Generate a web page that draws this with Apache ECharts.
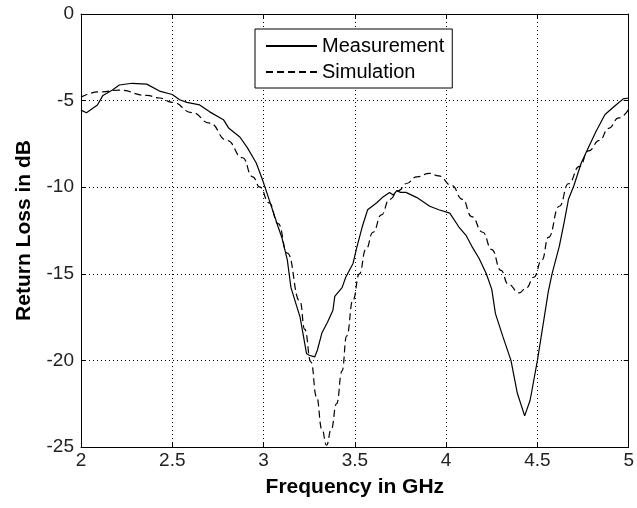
<!DOCTYPE html>
<html>
<head>
<meta charset="utf-8">
<script src="https://cdn.jsdelivr.net/npm/echarts@6/dist/echarts.min.js"></script>
<style>
html,body{margin:0;padding:0;background:#fff;}
#chart{width:637px;height:508px;}
</style>
</head>
<body>
<div id="chart"></div>
<script>
const xTicks = [2, 2.5, 3, 3.5, 4, 4.5, 5];
const yTicks = [-25, -20, -15, -10, -5, 0];

const measFreq = [2.00,2.03,2.09,2.12,2.17,2.21,2.28,2.36,2.43,2.50,2.54,2.58,2.65,2.705,2.78,2.81,2.87,2.91,2.96,2.995,3.03,3.08,3.10,3.13,3.15,3.20,3.235,3.25,3.28,3.295,3.32,3.35,3.38,3.39,3.43,3.45,3.49,3.51,3.54,3.57,3.62,3.65,3.69,3.70,3.71,3.73,3.75,3.78,3.84,3.91,3.96,4.02,4.07,4.11,4.14,4.18,4.22,4.25,4.27,4.31,4.355,4.39,4.43,4.46,4.50,4.56,4.58,4.62,4.645,4.67,4.70,4.74,4.78,4.82,4.87,4.93,4.97,5.00];
const measDb = [-5.55,-5.7,-5.25,-4.7,-4.4,-4.1,-4.0,-4.05,-4.45,-4.65,-4.95,-5.1,-5.25,-5.65,-6.1,-6.6,-7.1,-7.7,-8.6,-9.6,-10.7,-12.3,-12.9,-14.2,-15.8,-17.5,-19.6,-19.7,-19.8,-19.4,-18.4,-17.8,-17.1,-16.3,-15.8,-15.2,-14.4,-13.5,-12.3,-11.3,-10.9,-10.6,-10.3,-10.2,-10.45,-10.2,-10.3,-10.3,-10.6,-11.1,-11.3,-11.5,-12.3,-12.8,-13.4,-14.1,-15.0,-15.9,-17.3,-18.6,-20.0,-21.9,-23.2,-22.3,-20.0,-16.0,-15.0,-13.4,-12.1,-10.7,-9.9,-8.6,-7.7,-6.8,-5.8,-5.25,-4.9,-4.85];

const simFreq = [2.00,2.10,2.21,2.36,2.43,2.50,2.61,2.705,2.80,2.885,2.94,2.98,3.03,3.08,3.13,3.20,3.225,3.26,3.29,3.32,3.345,3.37,3.40,3.43,3.455,3.49,3.525,3.56,3.60,3.645,3.69,3.74,3.78,3.84,3.91,3.96,4.03,4.09,4.14,4.20,4.25,4.30,4.34,4.40,4.44,4.48,4.525,4.56,4.62,4.67,4.73,4.78,4.84,4.89,4.945,5.00];
const simDb = [-4.8,-4.5,-4.4,-4.7,-4.85,-5.1,-5.7,-6.3,-7.3,-8.3,-9.4,-10.0,-10.9,-12.1,-13.8,-16.6,-18.2,-20.1,-22.1,-24.0,-24.9,-24.0,-22.5,-20.6,-18.6,-16.5,-15.0,-13.6,-12.6,-11.6,-10.7,-10.2,-9.8,-9.4,-9.2,-9.35,-9.9,-10.7,-11.7,-12.6,-13.6,-14.8,-15.6,-16.1,-15.8,-15.2,-14.2,-12.9,-11.1,-9.8,-8.8,-7.9,-7.3,-6.6,-6.0,-5.5];

const seriesNames = ['Measurement', 'Simulation'];
const xName = 'Frequency in GHz';
const yName = 'Return Loss in dB';

const FONT = '"Liberation Sans", Arial, sans-serif';
const xMin = xTicks[0], xMax = xTicks[xTicks.length-1], xInt = xTicks[1]-xTicks[0];
const yMin = yTicks[0], yMax = yTicks[yTicks.length-1], yInt = yTicks[1]-yTicks[0];

function zip(a, b){ return a.map((v,i)=>[v, b[i]]); }

const chart = echarts.init(document.getElementById('chart'), null, {renderer:'canvas'});
const grid = {left:81, right:7, top:14, bottom:61, containLabel:false};
const dotted = {show:true, lineStyle:{color:'#000', width:1, type:[1,3]}};
const axLine = {show:true, onZero:false, lineStyle:{color:'#000', width:1}};
const tick = {show:true, inside:true, length:5, lineStyle:{color:'#000'}};

chart.setOption({
  animation:false,
  backgroundColor:'#fff',
  grid: grid,
  legend: {
    left:255, top:29, orient:'vertical',
    padding:[7,8,6,10],
    itemWidth:51, itemHeight:14, itemGap:6,
    borderColor:'#000', borderWidth:1, backgroundColor:'#fff',
    itemStyle:{opacity:0},
    textStyle:{fontFamily:FONT, fontSize:20, color:'#000'},
    data: seriesNames
  },
  xAxis: [{
    type:'value', min:xMin, max:xMax, interval:xInt,
    name:xName, nameLocation:'middle', nameGap:30,
    nameTextStyle:{fontFamily:FONT, fontSize:21, fontWeight:'bold', color:'#000'},
    axisLine:axLine, axisTick:tick, splitLine:dotted,
    axisLabel:{fontFamily:FONT, fontSize:19, color:'#222', margin:4, showMaxLabel:true, showMinLabel:true}
  },{
    type:'value', position:'top', min:xMin, max:xMax, interval:xInt,
    axisLine:axLine, axisTick:tick, splitLine:{show:false}, axisLabel:{show:false}
  }],
  yAxis: [{
    type:'value', min:yMin, max:yMax, interval:yInt,
    name:yName, nameLocation:'middle', nameGap:46,
    nameTextStyle:{fontFamily:FONT, fontSize:21, fontWeight:'bold', color:'#000'},
    axisLine:axLine, axisTick:tick, splitLine:dotted,
    axisLabel:{fontFamily:FONT, fontSize:19, color:'#222', margin:7}
  },{
    type:'value', position:'right', min:yMin, max:yMax, interval:yInt,
    axisLine:axLine, axisTick:tick, splitLine:{show:false}, axisLabel:{show:false}
  }],
  series: [{
    name:seriesNames[0], type:'line', xAxisIndex:0, yAxisIndex:0,
    data: zip(measFreq, measDb), symbol:'none', smooth:false,
    lineStyle:{color:'#000', width:1.2, type:'solid'}, itemStyle:{color:'#000'}
  },{
    name:seriesNames[1], type:'line', xAxisIndex:0, yAxisIndex:0,
    data: zip(simFreq, simDb), symbol:'none', smooth:true, smoothMonotone:'x',
    lineStyle:{color:'#000', width:1.2, type:[7,4]}, itemStyle:{color:'#000'}
  }]
});
</script>
</body>
</html>
